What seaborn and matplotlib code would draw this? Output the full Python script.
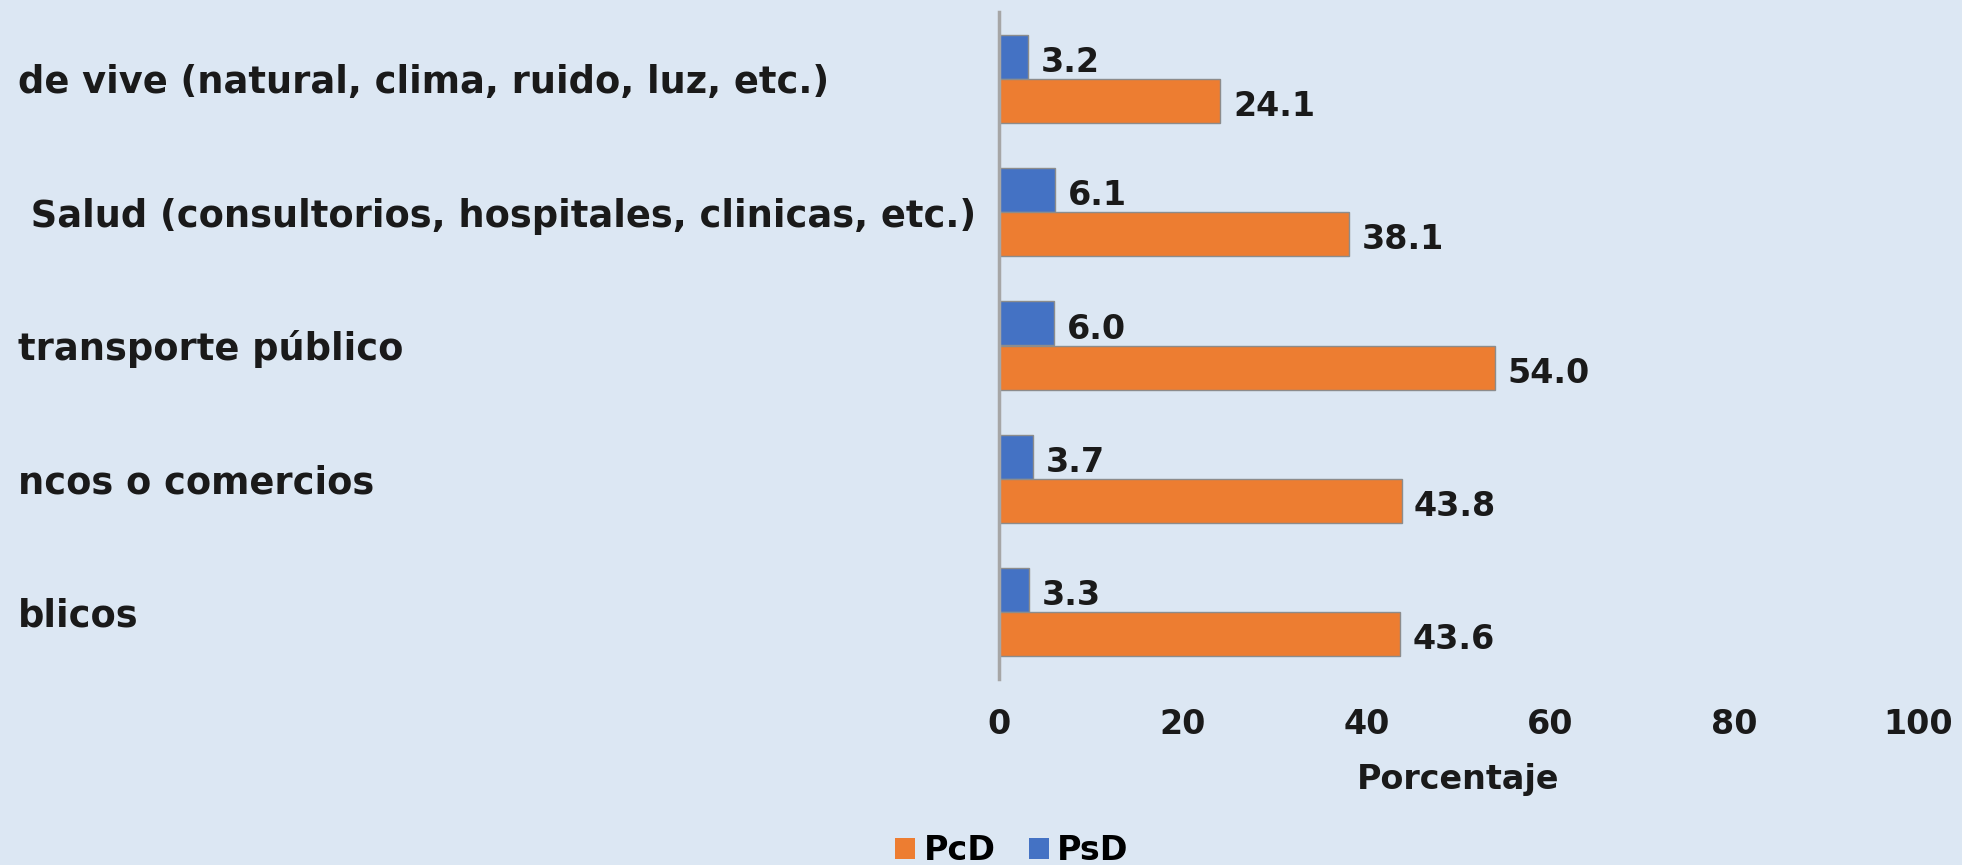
import matplotlib
matplotlib.use("Agg")
import matplotlib.pyplot as plt
from matplotlib.patches import Patch
import pandas as pd
import seaborn as sns

# visible (cropped) category labels, top to bottom
categories = [
    "de vive (natural, clima, ruido, luz, etc.)",
    " Salud (consultorios, hospitales, clinicas, etc.)",
    "transporte público",
    "ncos o comercios",
    "blicos",
]
psd = [3.2, 6.1, 6.0, 3.7, 3.3]
pcd = [24.1, 38.1, 54.0, 43.8, 43.6]
x_ticks = [0, 20, 40, 60, 80, 100]
legend_order = ["PcD", "PsD"]

bg = "#DCE7F3"
orange = "#ED7D31"
blue = "#4472C4"

df = pd.DataFrame({
    "categoria": categories * 2,
    "grupo": ["PsD"] * len(psd) + ["PcD"] * len(pcd),
    "valor": psd + pcd,
})

plt.rcParams["font.family"] = ["DejaVu Sans"]

fig, ax = plt.subplots(figsize=(19.62, 8.65), dpi=100)
fig.patch.set_facecolor(bg)
ax.set_facecolor(bg)
ax.set_position([999 / 1962, 1 - 679 / 865, (1918 - 999) / 1962, (679 - 12) / 865])

sns.barplot(data=df, x="valor", y="categoria", hue="grupo",
            hue_order=["PsD", "PcD"], palette={"PsD": blue, "PcD": orange},
            orient="h", width=0.66, saturation=1, edgecolor="#8c8c8c",
            linewidth=1, legend=False, ax=ax)

# value labels at bar ends, sitting slightly low like the original
for cont in ax.containers:
    anns = ax.bar_label(cont, fmt="%.1f", padding=9, fontsize=24,
                        fontweight="bold", color="#1a1a1a")
    for a in anns:
        a.xyann = (a.xyann[0], -4)

ax.set_xlim(0, 100)
ax.set_xticks(x_ticks)
ax.set_xlabel("Porcentaje", fontsize=24, fontweight="bold", labelpad=16,
              color="#1a1a1a")
ax.set_ylabel("")

ax.tick_params(axis="x", length=0, pad=21, labelsize=24, labelcolor="#1a1a1a")
ax.tick_params(axis="y", length=0, pad=(999 - 18) * 0.72, labelsize=26.5,
               labelcolor="#1a1a1a")
for lbl in ax.get_xticklabels():
    lbl.set_fontweight("bold")
for lbl in ax.get_yticklabels():
    lbl.set_fontweight("bold")
    lbl.set_horizontalalignment("left")

for side in ["top", "right", "bottom"]:
    ax.spines[side].set_visible(False)
ax.spines["left"].set_color("#A6A6A6")
ax.spines["left"].set_linewidth(2.5)
ax.grid(False)

colors = {"PcD": orange, "PsD": blue}
handles = [Patch(facecolor=colors[k], edgecolor="none") for k in legend_order]
fig.legend(handles, legend_order, loc="center",
           bbox_to_anchor=(1012 / 1962, 1 - 851 / 865), ncol=2, frameon=False,
           prop={"weight": "bold", "size": 24}, handlelength=0.6,
           handleheight=0.6, handletextpad=0.25, columnspacing=1.0)

fig.savefig("out.png", dpi=100, facecolor=bg)
